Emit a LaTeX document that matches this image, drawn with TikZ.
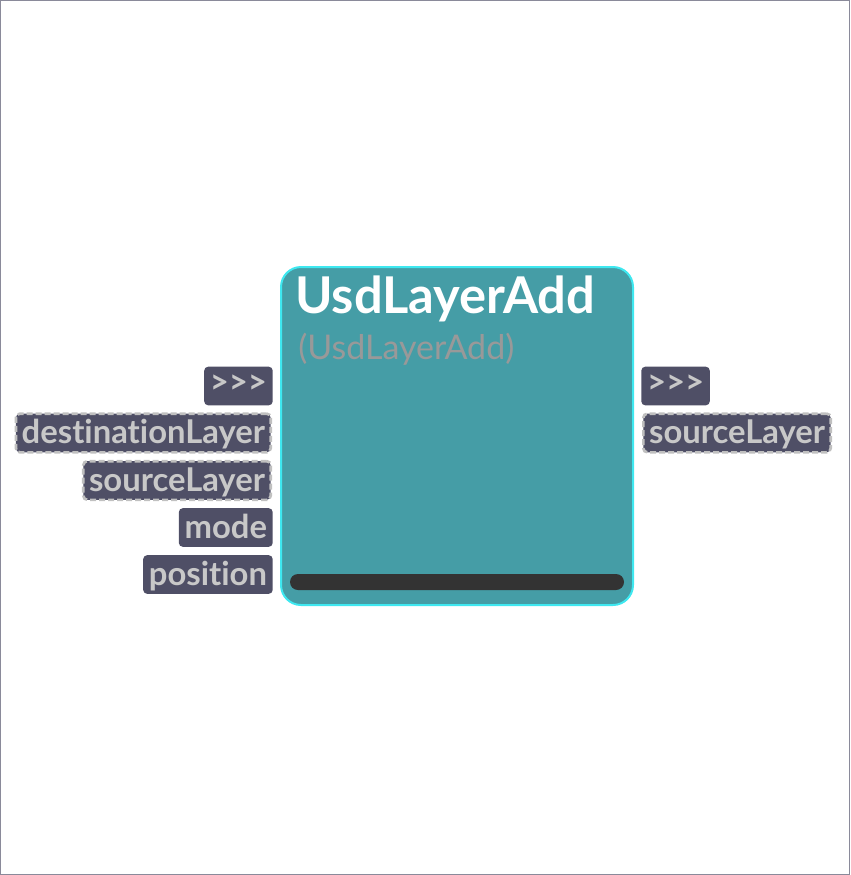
\documentclass[tikz,border=0pt]{standalone}
\usepackage{fontspec}
\setmainfont{Lato}[Ligatures={NoCommon}]
\definecolor{frame}{HTML}{8A8A9A}
\definecolor{nodefill}{HTML}{459DA6}
\definecolor{nodeline}{HTML}{3EE8F0}
\definecolor{portfill}{HTML}{4F4F66}
\definecolor{porttext}{HTML}{C8C8C8}
\definecolor{dashline}{HTML}{C0C0C0}
\definecolor{subtext}{HTML}{999999}
\definecolor{barfill}{HTML}{333333}
\tikzset{
  port/.style={fill=portfill, rounded corners=3pt, text=porttext, font=\fontsize{24.6}{28}\selectfont\bfseries,
    minimum height=29pt, inner xsep=4.3pt, inner ysep=0pt, text depth=0.2em},
  dport/.style={port, draw=dashline, dash pattern=on 4.5pt off 2.25pt, line width=2pt},
  leftport/.style={anchor=east},
  rightport/.style={anchor=west},
}
\begin{document}
\begin{tikzpicture}[x=0.75pt,y=-0.75pt]
\useasboundingbox (0,0) rectangle (850,875);
\draw[frame, line width=0.75pt] (0.5,0.5) rectangle (849.5,874.5);
% main node
\draw[fill=nodefill, draw=nodeline, line width=1.5pt, rounded corners=15pt] (281,267) rectangle (633,605);
\node[anchor=base west, inner sep=0pt, text=white, font=\fontsize{38}{44}\selectfont\bfseries] (title) at (295,313) {UsdLayerAdd};
\node[anchor=base west, inner sep=0pt, text=subtext, font=\fontsize{25.5}{30}\selectfont] (subtitle) at (298,359) {(UsdLayerAdd)};
\fill[barfill, rounded corners=6pt] (290,574) rectangle (624,590);
\coordinate (bar) at (457,582);
% left ports
\node[port, leftport] (in1) at (273,386) {{>}{>}{>}};
\node[dport, leftport] (in2) at (272,433) {destinationLayer};
\node[dport, leftport] (in3) at (272,480.5) {sourceLayer};
\node[port, leftport] (in4) at (273,527.5) {mode};
\node[port, leftport] (in5) at (273,574.5) {position};
% right ports
\node[port, rightport] (out1) at (641,386) {{>}{>}{>}};
\node[dport, rightport] (out2) at (642,433) {sourceLayer};
\end{tikzpicture}
\end{document}
